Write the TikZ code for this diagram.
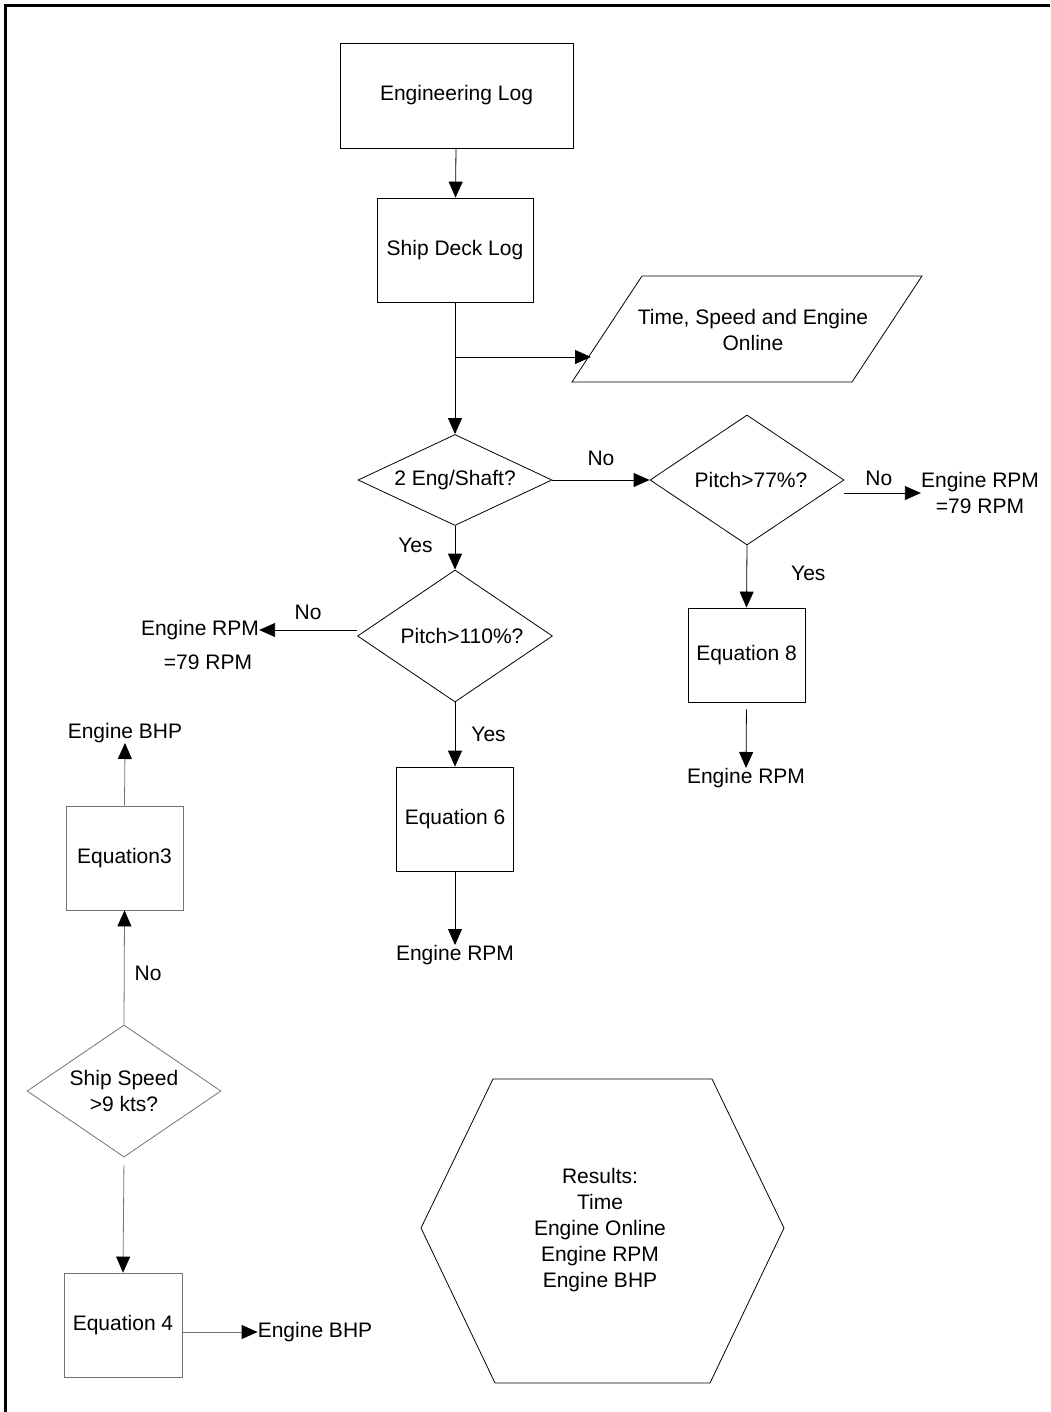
\documentclass[tikz,border=0pt]{standalone}
\usepackage{fontspec}
\setmainfont{Liberation Sans}
\usetikzlibrary{shapes.geometric,arrows.meta}
\begin{document}
\begin{tikzpicture}[x=1pt,y=-1pt,
  every node/.style={font=\fontsize{21}{26}\selectfont, inner sep=0pt, align=center},
  box/.style={draw, line width=0.8pt, rectangle, minimum width=117pt, minimum height=104pt},
  dec/.style={draw, line width=0.8pt, diamond, minimum width=194pt},
  faint/.style={draw=black!55},
  arr/.style={line width=0.8pt, -{Triangle[length=16pt,width=14pt]}},
  farr/.style={line width=0.8pt, draw=black!55, -{Triangle[length=16pt,width=14pt,color=black]}}
]
\useasboundingbox (0,0) rectangle (1050,1412);
% frame
\draw[line width=3pt] (5,1412) -- (5,6) -- (1050,6);

% main column
\node[box, minimum width=233pt, minimum height=105pt] (eng) at (456.5,95.5) {Engineering Log};
\node[box, minimum width=156pt] (ship) at (455,250) {Ship Deck Log};

% data parallelogram
\draw[line width=0.8pt] (642,276) -- (922,276) -- (852,382) -- (572,382) -- cycle;
\node (data) at (753,330) {Time, Speed and Engine\\Online};
\coordinate (dataIn) at (591,357);

\node[dec, aspect=2.2, minimum height=91pt] (d1) at (455,480) {2 Eng/Shaft?};
\node[dec, aspect=1.5, minimum height=130pt] (d2) at (747,480) {\hspace{8pt}Pitch>77\%?};
\node (out1) at (980,493) {Engine RPM\\=79 RPM};
\node[box, minimum height=94pt] (eq8) at (746.5,655) {Equation 8};
\node[anchor=north] (rpm8) at (746,768) {Engine RPM};

\node[dec, aspect=1.5, minimum width=195pt, minimum height=132pt] (d3) at (455,636) {\hspace{14pt}Pitch>110\%?};
\node (rpmL1) at (200,630) {Engine RPM};
\node (rpmL2) at (208,662) {=79 RPM};
\node[box] (eq6) at (455,819) {Equation 6};
\node[anchor=north] (rpm6) at (455,945) {Engine RPM};

% connectors main
\draw[arr] (eng) -- (ship);
\coordinate (junc) at (455,357);
\draw[line width=0.8pt] (ship.south) -- (junc);
\draw[arr] (junc) -- (d1.north);
\draw[arr] (junc) -- (dataIn);
\draw[arr] (d1.east) -- node[above=14pt] {No} (d2.west);
\draw[arr] (d2.east |- out1.west) -- node[above=7pt, pos=0.45] {No} (out1.west);
\draw[arr] (d2.south) -- node[right=44pt, pos=0.45] {Yes} (eq8.north);
\draw[arr, shorten <=7pt] (eq8.south) -- (rpm8.north);
\draw[arr] (d1.south) -- node[left=22pt, pos=0.45] {Yes} (d3.north);
\draw[arr] (d3.west |- rpmL1.east) -- node[above=10pt, pos=0.5] {No} (rpmL1.east);
\draw[arr] (d3.south) -- node[right=16pt, pos=0.5] {Yes} (eq6.north);
\draw[arr] (eq6.south) -- (rpm6.north);

% left column (faint)
\node (bhp3) at (125,733) {Engine BHP};
\node[box, faint] (eq3) at (124.5,858) {Equation3};
\node[dec, faint, aspect=1.47, minimum height=132pt] (d4) at (124,1091) {Ship Speed\\>9 kts?};
\node[box, faint, minimum width=118pt] (eq4) at (123,1325) {Equation 4};
\node (bhp4) at (315,1332) {Engine BHP};
\draw[farr] (d4.north) -- node[right=10pt, pos=0.45] {No} (eq3.south);
\draw[farr] (eq3.north) -- (bhp3.south);
\draw[farr, shorten <=8pt] (d4.south) -- (eq4.north);
\draw[farr] (eq4.east |- bhp4.west) -- (bhp4.west);

% results hexagon
\draw[line width=0.8pt] (493,1079) -- (712,1079) -- (784,1228) -- (710,1383) -- (495,1383) -- (421,1228) -- cycle;
\node (res) at (600,1230) {Results:\\Time\\Engine Online\\Engine RPM\\Engine BHP};
\end{tikzpicture}
\end{document}
